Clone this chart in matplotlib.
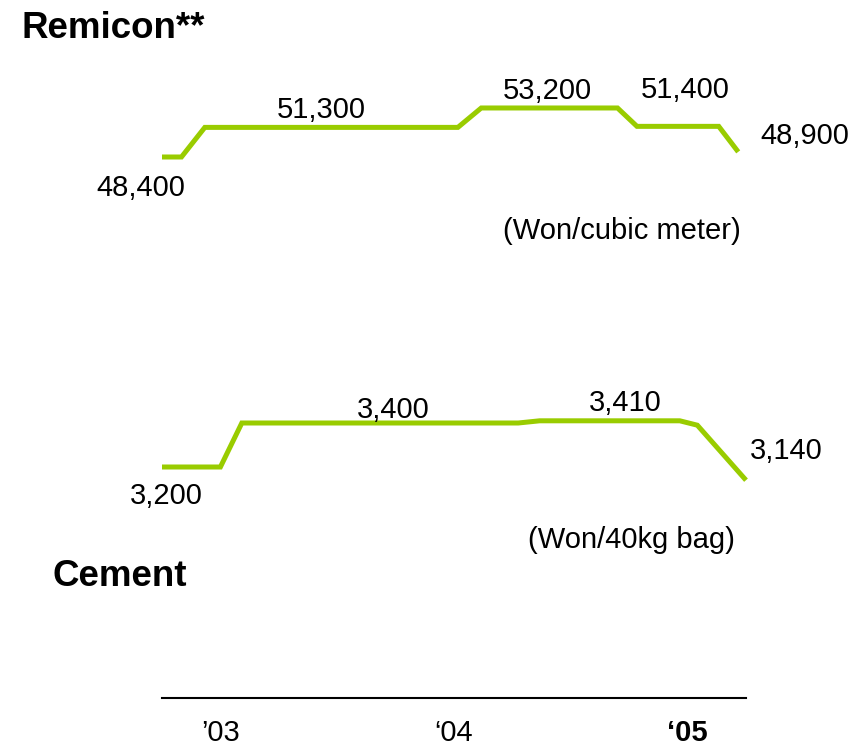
import matplotlib.pyplot as plt

plt.rcParams['font.family'] = ['Liberation Sans', 'DejaVu Sans']

# x = months counted from 1 Jan 2003
remicon_month = [3, 4, 5.2, 18.2, 19.4, 26.4, 27.4, 31.6, 32.6]
remicon_price = [48400, 48400, 51300, 51300, 53200, 53200, 51400, 51400, 48900]

cement_month = [3, 6, 7.1, 21.3, 22.4, 29.6, 30.5, 33]
cement_price = [3200, 3200, 3400, 3400, 3410, 3410, 3390, 3140]

remicon_levels = [48400, 51300, 53200, 51400, 48900]
cement_levels = [3200, 3400, 3410, 3140]

year_labels = ['\u201903', '\u201804', '\u201805']
year_month = [6, 18, 30]

GREEN = '#99cc00'
W, H = 868, 746

fig = plt.figure(figsize=(W / 100, H / 100), dpi=100)

# remicon panel
ax1 = fig.add_axes([162 / W, 1 - 181.5 / H, 584 / W, 91.9 / H])
ax1.plot(remicon_month, remicon_price, color=GREEN, lw=3.6,
         solid_joinstyle='miter', solid_capstyle='butt', clip_on=False)
ax1.set_xlim(3, 33)
ax1.set_ylim(46000, 55000)
ax1.axis('off')
for v, m, dy in zip(remicon_levels, [1.9, 11.2, 22.8, 29.9, 36.0],
                    [-31, 17, 17, 36, 16]):
    ax1.annotate(f'{v:,}', xy=(m, v), xytext=(0, dy), textcoords='offset pixels',
                 ha='center', va='center', fontsize=21, annotation_clip=False)

# cement panel
ax2 = fig.add_axes([162 / W, 1 - 511 / H, 584 / W, 132 / H])
ax2.plot(cement_month, cement_price, color=GREEN, lw=3.6,
         solid_joinstyle='miter', solid_capstyle='butt', clip_on=False)
ax2.set_xlim(3, 33)
ax2.set_ylim(3000, 3600)
ax2.axis('off')
for v, m, dy in zip(cement_levels, [3.2, 14.9, 26.8, 35.05], [-29, 13, 18, 29]):
    ax2.annotate(f'{v:,}', xy=(m, v), xytext=(0, dy), textcoords='offset pixels',
                 ha='center', va='center', fontsize=21, annotation_clip=False)

# time axis
ax3 = fig.add_axes([162 / W, 1 - 698 / H, 584 / W, 0.04])
ax3.set_facecolor('none')
for s in ['top', 'left', 'right']:
    ax3.spines[s].set_visible(False)
ax3.spines['bottom'].set_linewidth(1.5)
ax3.set_xlim(3, 33)
ax3.set_xticks(year_month, year_labels, fontsize=21)
ax3.set_yticks([])
ax3.tick_params(axis='x', length=0, pad=15)
ax3.get_xticklabels()[2].set_fontweight('bold')

fig.text(22 / W, 1 - 29 / H, 'Remicon**', fontsize=26.5, fontweight='bold',
         ha='left', va='center')
fig.text(52 / W, 1 - 577 / H, 'Cement', fontsize=26.5, fontweight='bold',
         ha='left', va='center')
fig.text(622 / W, 1 - 231 / H, '(Won/cubic meter)', fontsize=21,
         ha='center', va='center')
fig.text(631 / W, 1 - 540 / H, '(Won/40kg bag)', fontsize=21,
         ha='center', va='center')

fig.savefig('out.png', dpi=100)
